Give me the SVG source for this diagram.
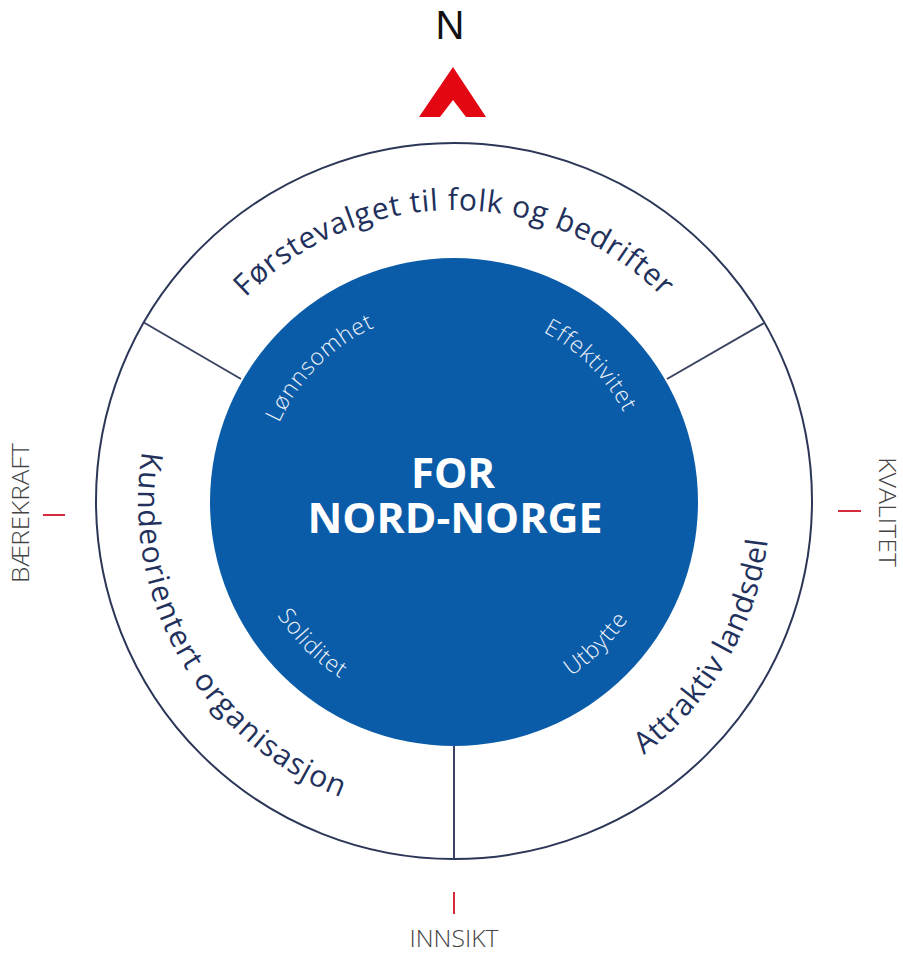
<svg xmlns="http://www.w3.org/2000/svg" xmlns:xlink="http://www.w3.org/1999/xlink" width="903" height="953" viewBox="0 0 903 953">
<style>
.ring{fill:none;stroke:#2c3758;stroke-width:2}
.div{stroke:#3a4462;stroke-width:2}
.tick{stroke:#d42a3c;stroke-width:2}
.outer{font-family:"Open Sans","Liberation Sans",sans-serif;font-size:30px;fill:#22305c}
.inner{font-family:"Open Sans","Liberation Sans",sans-serif;font-size:23px;font-weight:300;fill:#eef3fa;letter-spacing:0.8px}
.side{font-family:"Open Sans","Liberation Sans",sans-serif;font-size:23px;font-weight:300;fill:#444444}
.center{font-family:"Open Sans","Liberation Sans",sans-serif;font-size:42px;font-weight:700;fill:#ffffff}
</style>
<defs>
<path id="pTop" d="M162,502 A292,292 0 0 1 746,502"/>
<path id="pLeft" d="M296,228.3 A316,316 0 0 0 612,775.7"/>
<path id="pRight" d="M296,775.7 A316,316 0 0 0 612,228.3"/>
<path id="pLon" d="M318.2,637.8 A192,192 0 0 1 589.8,366.2"/>
<path id="pEff" d="M318.2,366.2 A192,192 0 0 1 589.8,637.8"/>
<path id="pSol" d="M305.5,353.5 A210,210 0 0 0 602.5,650.5"/>
<path id="pUtb" d="M305.5,650.5 A210,210 0 0 0 602.5,353.5"/>
</defs>
<rect width="903" height="953" fill="#ffffff"/>
<g id="north">
<text x="450" y="39" text-anchor="middle" font-family="Liberation Sans, Arial, sans-serif" font-size="40" fill="#111111">N</text>
<polygon points="453,67 486,117 466,117 453,100 440,117 419,117" fill="#e30613"/>
</g>
<g id="outer-ring">
<circle cx="454" cy="501" r="358" class="ring"/>
</g>
<g id="core">
<circle cx="454" cy="502" r="244" fill="#0b5ca8"/>
<text x="453" y="488" text-anchor="middle" class="center">FOR</text>
<text x="455" y="533" text-anchor="middle" class="center" textLength="295" lengthAdjust="spacingAndGlyphs">NORD-NORGE</text>
</g>
<g id="connectors">
<line x1="143" y1="322" x2="241" y2="379" class="div"/>
<line x1="764" y1="323" x2="667" y2="379" class="div"/>
<line x1="454" y1="746" x2="454" y2="859" class="div"/>
</g>
<g id="sector-top">
<text class="outer" letter-spacing="0.8"><textPath xlink:href="#pTop" href="#pTop" startOffset="50%" text-anchor="middle">Førstevalget til folk og bedrifter</textPath></text>
</g>
<g id="sector-left">
<text class="outer" letter-spacing="1.2"><textPath xlink:href="#pLeft" href="#pLeft" startOffset="50%" text-anchor="middle">Kundeorientert organisasjon</textPath></text>
</g>
<g id="sector-right">
<text class="outer" letter-spacing="0.6"><textPath xlink:href="#pRight" href="#pRight" startOffset="50%" text-anchor="middle">Attraktiv landsdel</textPath></text>
</g>
<g id="inner-labels">
<text class="inner"><textPath xlink:href="#pLon" href="#pLon" startOffset="50%" text-anchor="middle">Lønnsomhet</textPath></text>
<text class="inner"><textPath xlink:href="#pEff" href="#pEff" startOffset="50%" text-anchor="middle">Effektivitet</textPath></text>
<text class="inner"><textPath xlink:href="#pSol" href="#pSol" startOffset="50%" text-anchor="middle">Soliditet</textPath></text>
<text class="inner"><textPath xlink:href="#pUtb" href="#pUtb" startOffset="50%" text-anchor="middle">Utbytte</textPath></text>
</g>
<g id="label-west">
<line x1="43" y1="515" x2="65" y2="515" class="tick"/>
<text transform="translate(29,513) rotate(-90)" text-anchor="middle" class="side" textLength="140" lengthAdjust="spacingAndGlyphs">BÆREKRAFT</text>
</g>
<g id="label-east">
<line x1="838" y1="511" x2="861" y2="511" class="tick"/>
<text transform="translate(879,512) rotate(90)" text-anchor="middle" class="side" textLength="110" lengthAdjust="spacingAndGlyphs">KVALITET</text>
</g>
<g id="label-south">
<line x1="454" y1="892" x2="454" y2="914" class="tick"/>
<text x="454" y="947" text-anchor="middle" class="side" textLength="89" lengthAdjust="spacingAndGlyphs">INNSIKT</text>
</g>
</svg>
